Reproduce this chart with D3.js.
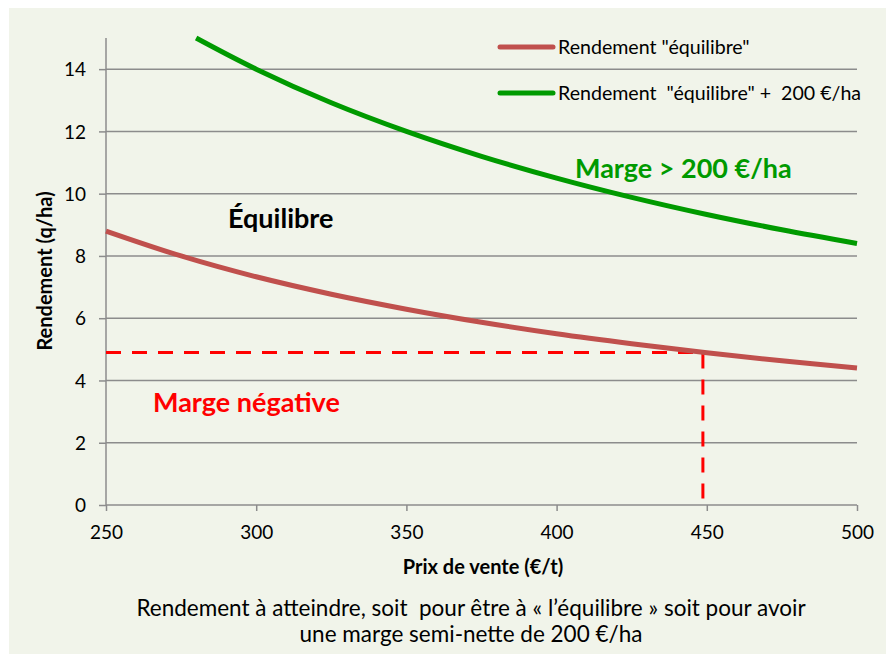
<!DOCTYPE html>
<html><head><meta charset="utf-8">
<script src="https://cdn.jsdelivr.net/npm/d3@7/dist/d3.min.js"></script>
<style>
html,body{margin:0;padding:0;background:#fff;}
svg{display:block;font-family:Lato,"Open Sans",sans-serif;}
</style></head>
<body>
<svg id="c" width="886" height="654"></svg>
<script>
// Data
const prices = [250, 275, 300, 325, 350, 375, 400, 425, 450, 475, 500];
const equilibre = [8.8, 8.0, 7.33, 6.77, 6.29, 5.87, 5.5, 5.18, 4.89, 4.63, 4.4];
const prices200 = [280, 300, 325, 350, 375, 400, 425, 450, 475, 500];
const equilibre200 = [15.0, 14.0, 12.92, 12.0, 11.2, 10.5, 9.88, 9.33, 8.84, 8.4];
const xTicks = [250, 300, 350, 400, 450, 500];
const yTicks = [0, 2, 4, 6, 8, 10, 12, 14];
const seuilPrix = 448.7, seuilRendement = 4.9;
const legendLabels = ['Rendement "équilibre"', 'Rendement \u00a0"équilibre" + \u00a0200 €/ha'];
const colors = ["#c0504d", "#009a00"];

const svg = d3.select("#c");
svg.append("rect").attr("x", 9).attr("y", 8).attr("width", 877).attr("height", 646).attr("fill", "#f1f4ea");

const m = {left: 106, right: 857, top: 38, bottom: 505};
const x = d3.scaleLinear().domain([250, 500]).range([m.left, m.right]);
const y = d3.scaleLinear().domain([0, 15]).range([m.bottom, m.top]);

// gridlines
svg.append("g").selectAll("line").data(yTicks.filter(d => d > 0)).join("line")
  .attr("x1", m.left).attr("x2", m.right)
  .attr("y1", d => y(d)).attr("y2", d => y(d))
  .attr("stroke", "#8c8c8c").attr("stroke-width", 1.5);

// axes
const gy = svg.append("g").attr("transform", `translate(${m.left},0)`)
  .call(d3.axisLeft(y).tickValues(yTicks).tickSize(7));
const gx = svg.append("g").attr("transform", `translate(0,${m.bottom})`)
  .call(d3.axisBottom(x).tickValues(xTicks).tickSize(6));
[gy, gx].forEach(g => {
  g.select(".domain").attr("stroke", "#8c8c8c").attr("stroke-width", 1.5);
  g.selectAll(".tick line").attr("stroke", "#8c8c8c").attr("stroke-width", 1.5);
  g.selectAll(".tick text").attr("fill", "#000").attr("font-size", 19).attr("font-family", "Lato, sans-serif");
});
gy.selectAll(".tick text").attr("x", -20).attr("dy", "0.35em");
gx.selectAll(".tick text").attr("y", 27).attr("dy", "0.35em");
gy.select(".domain").attr("d", `M0,${m.bottom}V${m.top}`);
gx.select(".domain").attr("d", `M${m.left},0H${m.right}`);

// dashed lines
svg.append("path")
  .attr("d", `M${x(250)},${y(seuilRendement)}H${x(seuilPrix)}V${y(0)}`)
  .attr("fill", "none").attr("stroke", "#ff0000").attr("stroke-width", 3)
  .attr("stroke-dasharray", "15,11");

// curves
const line = d3.line().x(d => x(d[0])).y(d => y(d[1])).curve(d3.curveCatmullRom);
svg.append("path").datum(prices.map((p, i) => [p, equilibre[i]]))
  .attr("d", line).attr("fill", "none").attr("stroke", colors[0]).attr("stroke-width", 5);
svg.append("path").datum(prices200.map((p, i) => [p, equilibre200[i]]))
  .attr("d", line).attr("fill", "none").attr("stroke", colors[1]).attr("stroke-width", 5);

// legend
const lg = svg.append("g");
[47, 93].forEach((ly, i) => {
  lg.append("line").attr("x1", 500).attr("x2", 553).attr("y1", ly).attr("y2", ly)
    .attr("stroke", colors[i]).attr("stroke-width", 5).attr("stroke-linecap", "round");
  lg.append("text").attr("x", 558).attr("y", ly + 7).attr("font-size", 19.6).text(legendLabels[i]);
});

// annotations
svg.append("text").attr("x", 228).attr("y", 228).attr("font-size", 27).attr("font-weight", "bold").attr("fill", "#000").text("Équilibre");
svg.append("text").attr("x", 575).attr("y", 178).attr("font-size", 27).attr("font-weight", "bold").attr("fill", "#009a00").text("Marge > 200 €/ha");
svg.append("text").attr("x", 153).attr("y", 412).attr("font-size", 27).attr("font-weight", "bold").attr("fill", "#ff0000").text("Marge négative");

// axis titles
svg.append("text").attr("transform", "translate(52,271) rotate(-90)").attr("text-anchor", "middle")
  .attr("font-size", 20).attr("font-weight", "bold").text("Rendement (q/ha)");
svg.append("text").attr("x", 483).attr("y", 574).attr("text-anchor", "middle")
  .attr("font-size", 20).attr("font-weight", "bold").text("Prix de vente (€/t)");

// caption
svg.append("text").attr("x", 471).attr("y", 616).attr("text-anchor", "middle").attr("font-size", 22.5)
  .text("Rendement à atteindre, soit \u00a0pour être à « l’équilibre » soit pour avoir");
svg.append("text").attr("x", 471).attr("y", 642).attr("text-anchor", "middle").attr("font-size", 22.5)
  .text("une marge semi-nette de 200 €/ha");
</script>
</body></html>
